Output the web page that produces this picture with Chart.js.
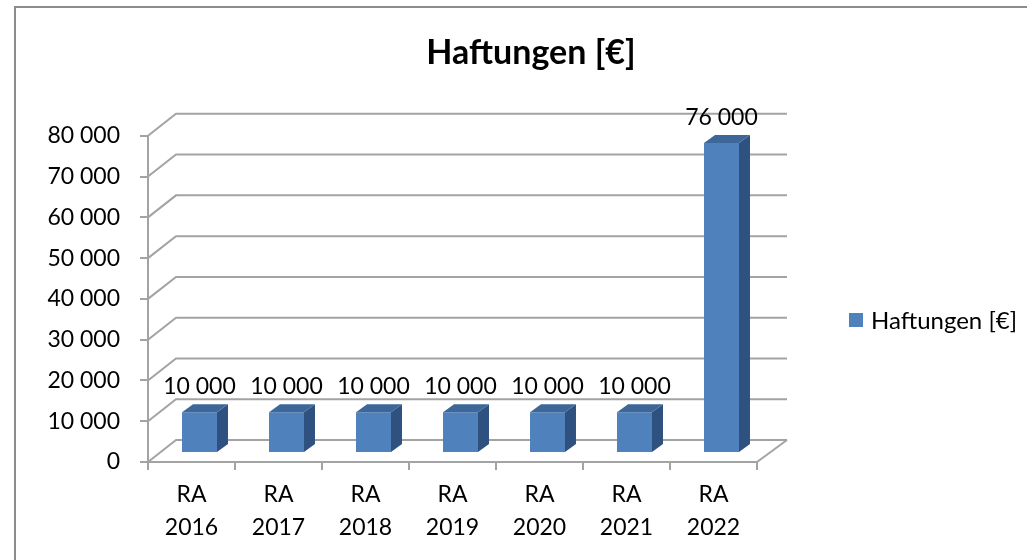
<!DOCTYPE html>
<html>
<head>
<meta charset="utf-8">
<script src="https://cdn.jsdelivr.net/npm/chart.js@4"></script>
<style>
  html, body { margin: 0; padding: 0; background: #fff; }
  #wrap { width: 1027px; height: 560px; }
</style>
</head>
<body>
<div id="wrap"><canvas id="grafico" width="1027" height="560"></canvas></div>
<script>
// data
const categorias = ['RA 2016', 'RA 2017', 'RA 2018', 'RA 2019', 'RA 2020', 'RA 2021', 'RA 2022'];
const haftungen = [10000, 10000, 10000, 10000, 10000, 10000, 76000];
const serieNome = 'Haftungen [€]';
const tituloTexto = 'Haftungen [€]';
const yMin = 0;
const yMax = 80000;
const yPasso = 10000;

// 3D look
const FRENTE = '#4f81bd';
const TOPO = '#3d6699';
const LADO = '#2f5180';
const GRADE = '#a3a3a3';
const PROF_X = 28, PROF_Y = 22;   // wall depth
const DESL_X = 8, DESL_Y = -9;    // bar shift into depth
const LADO_X = 11, LADO_Y = 8;    // bar side depth

function fmt(v) {
  return String(v).replace(/\B(?=(\d{3})+(?!\d))/g, ' ');
}

Chart.defaults.font.family = 'Lato';
Chart.defaults.font.size = 23;
Chart.defaults.color = '#000';

const efeito3d = {
  id: 'efeito3d',
  beforeDatasetsDraw(chart) {
    const ctx = chart.ctx;
    const a = chart.chartArea;
    const y = chart.scales.y;
    ctx.save();
    ctx.strokeStyle = GRADE;
    ctx.lineWidth = 2;
    y.ticks.forEach(t => {
      const py = y.getPixelForValue(t.value);
      ctx.beginPath();
      ctx.moveTo(a.left, py);
      ctx.lineTo(a.left + PROF_X, py - PROF_Y);
      ctx.lineTo(a.right + PROF_X + 2, py - PROF_Y);
      ctx.stroke();
    });
    // floor right edge
    ctx.beginPath();
    ctx.moveTo(a.right, a.bottom);
    ctx.lineTo(a.right + PROF_X + 2, a.bottom - PROF_Y);
    ctx.stroke();
    ctx.restore();
    ctx.save();
    ctx.translate(DESL_X, DESL_Y);
  },
  afterDatasetsDraw(chart) {
    const ctx = chart.ctx;
    ctx.restore();
    const meta = chart.getDatasetMeta(0);
    ctx.save();
    meta.data.forEach((bar, i) => {
      const p = bar.getProps(['x', 'y', 'base', 'width'], true);
      const esq = p.x - p.width / 2 + DESL_X;
      const dir = p.x + p.width / 2 + DESL_X;
      const topo = p.y + DESL_Y;
      const baixo = p.base + DESL_Y;
      // side
      ctx.fillStyle = LADO;
      ctx.beginPath();
      ctx.moveTo(dir, topo);
      ctx.lineTo(dir + LADO_X, topo - LADO_Y);
      ctx.lineTo(dir + LADO_X, baixo - LADO_Y);
      ctx.lineTo(dir, baixo);
      ctx.closePath();
      ctx.fill();
      // top
      ctx.fillStyle = TOPO;
      ctx.beginPath();
      ctx.moveTo(esq, topo);
      ctx.lineTo(esq + LADO_X, topo - LADO_Y);
      ctx.lineTo(dir + LADO_X, topo - LADO_Y);
      ctx.lineTo(dir, topo);
      ctx.closePath();
      ctx.fill();
      // value label
      ctx.fillStyle = '#000';
      ctx.font = '23px Lato';
      ctx.textAlign = 'center';
      ctx.textBaseline = 'middle';
      ctx.fillText(fmt(chart.data.datasets[0].data[i]), p.x + DESL_X, topo - 26);
    });
    ctx.restore();
  },
  afterDraw(chart) {
    const ctx = chart.ctx;
    ctx.save();
    // outer frame
    ctx.strokeStyle = '#8c8c8c';
    ctx.lineWidth = 2;
    ctx.beginPath();
    ctx.moveTo(15, 560);
    ctx.lineTo(15, 7);
    ctx.lineTo(1027, 7);
    ctx.stroke();
    // legend
    const ds = chart.data.datasets[0];
    ctx.fillStyle = ds.backgroundColor;
    ctx.fillRect(849, 313, 14, 14);
    ctx.fillStyle = '#000';
    ctx.font = '24px Lato';
    ctx.textAlign = 'left';
    ctx.textBaseline = 'middle';
    ctx.fillText(ds.label, 871, 321);
    ctx.restore();
  }
};

const ctx = document.getElementById('grafico').getContext('2d');

const grafico = new Chart(ctx, {
  type: 'bar',
  data: {
    labels: categorias.map(c => c.split(' ')),
    datasets: [{
      label: serieNome,
      data: haftungen,
      backgroundColor: FRENTE,
      borderWidth: 0,
      barPercentage: 0.402,
      categoryPercentage: 1
    }]
  },
  options: {
    responsive: false,
    animation: false,
    layout: { padding: { left: 35, right: 0, top: 10, bottom: 0 } },
    plugins: {
      legend: { display: false },
      tooltip: { enabled: false },
      title: {
        display: true,
        text: tituloTexto,
        color: '#000',
        font: { size: 34, weight: 'bold', family: 'Lato' },
        padding: { top: 23, bottom: 62 }
      }
    },
    scales: {
      x: {
        grid: { drawOnChartArea: false, color: GRADE, lineWidth: 2, tickLength: 8 },
        border: { color: GRADE, width: 2 },
        ticks: { padding: 8, font: { size: 23, lineHeight: 1.43 }, maxRotation: 0 },
        afterFit(s) { s.height = 98; }
      },
      y: {
        min: yMin,
        max: yMax,
        grid: { drawOnChartArea: false, color: GRADE, lineWidth: 2, tickLength: 8 },
        border: { color: GRADE, width: 2 },
        ticks: { stepSize: yPasso, padding: 20, callback: v => fmt(v) },
        afterFit(s) { s.width = 113; }
      },
      espaco: {
        position: 'right',
        display: true,
        grid: { display: false },
        border: { display: false },
        ticks: { display: false },
        afterFit(s) { s.width = 270; }
      }
    }
  },
  plugins: [efeito3d]
});
</script>
</body>
</html>
